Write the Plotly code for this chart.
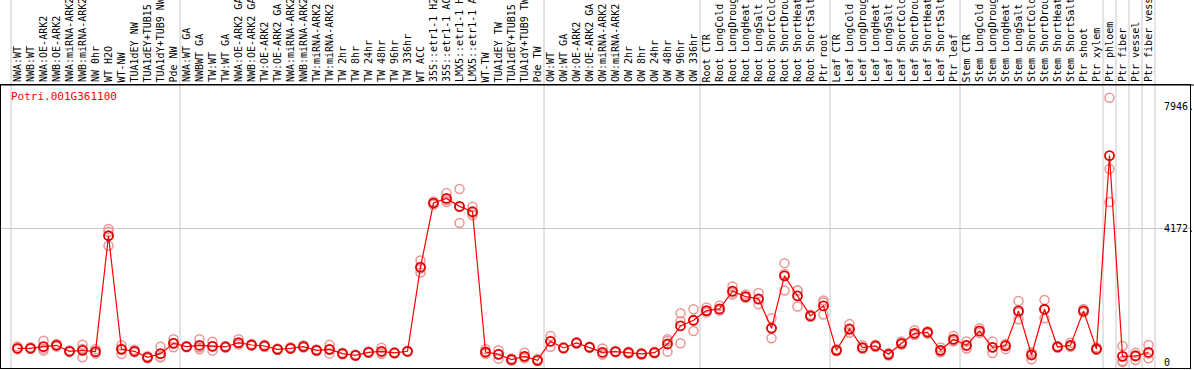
import plotly.graph_objects as go

categories = [
    "NWA:WT", "NWB:WT", "NWA:OE-ARK2", "NWB:OE-ARK2", "NWA:miRNA-ARK2", "NWB:miRNA-ARK2",
    "NW 0hr", "WT H2O", "WT-NW", "TUA1dEY NW", "TUA1dEY+TUB15 NW", "TUA1dY+TUB9 NW", "Pde NW",
    "NWA:WT GA", "NWBWT GA", "TW:WT", "TW:WT GA", "NWA:OE-ARK2 GA", "NWB:OE-ARK2 GA",
    "TW:OE-ARK2", "TW:OE-ARK2 GA", "NWA:miRNA-ARK2", "NWB:miRNA-ARK2", "TW:miRNA-ARK2",
    "TW:miRNA-ARK2", "TW 2hr", "TW 8hr", "TW 24hr", "TW 48hr", "TW 96hr", "TW 336hr",
    "WT ACC", "35S::etr1-1 H2O", "35S::etr1-1 ACC", "LMX5::etr1-1 H2O", "LMX5::etr1-1 ACC",
    "WT-TW", "TUA1dEY TW", "TUA1dEY+TUB15 TW", "TUA1dY+TUB9 TW", "Pde TW",
    "OW:WT", "OW:WT GA", "OW:OE-ARK2", "OW:OE-ARK2 GA", "OW:miRNA-ARK2", "OW:miRNA-ARK2",
    "OW 2hr", "OW 8hr", "OW 24hr", "OW 48hr", "OW 96hr", "OW 336hr",
    "Root CTR", "Root LongCold", "Root LongDrought", "Root LongHeat", "Root LongSalt",
    "Root ShortCold", "Root ShortDrought", "Root ShortHeat", "Root ShortSalt", "Ptr root",
    "Leaf CTR", "Leaf LongCold", "Leaf LongDrought", "Leaf LongHeat", "Leaf LongSalt",
    "Leaf ShortCold", "Leaf ShortDrought", "Leaf ShortHeat", "Leaf ShortSalt", "Ptr leaf",
    "Stem CTR", "Stem LongCold", "Stem LongDrought", "Stem LongHeat", "Stem LongSalt",
    "Stem ShortCold", "Stem ShortDrought", "Stem ShortHeat", "Stem ShortSalt", "Ptr shoot",
    "Ptr xylem", "Ptr phloem", "Ptr fiber", "Ptr vessel", "Ptr fiber vessel",
]

mean_values = [
    427, 427, 477, 520, 333, 364, 322, 3930, 395, 333, 146, 260, 582,
    477, 520, 489, 468, 603, 530, 499, 395, 427, 477, 364, 395, 260, 208, 302, 333, 281, 333,
    2953, 4949, 5094, 4845, 4679, 312, 239, 73, 177, 52,
    645, 437, 593, 458, 302, 322, 291, 250, 291, 561, 1123, 1300,
    1601, 1653, 2205, 2037, 1965, 1050, 2682, 2059, 1435, 1747,
    364, 1029, 447, 499, 239, 582, 894, 925, 364, 707,
    520, 967, 458, 499, 1591, 218, 1643, 468, 520, 1591, 405,
    6425, 177, 187, 302,
]

rep1 = [
    480, 460, 664, 560, 360, 540, 400, 4139, 520, 380, 180, 477, 707,
    500, 707, 634, 500, 707, 560, 540, 420, 460, 520, 390, 540, 290, 230, 330, 440, 300, 350,
    3160, 5000, 5262, 5386, 4834, 400, 364, 110, 290, 90,
    811, 460, 620, 480, 420, 340, 320, 280, 320, 707, 1518, 1643,
    1700, 1750, 2350, 2100, 2150, 1362, 3078, 2225, 1470, 1913,
    400, 1180, 520, 540, 280, 640, 990, 960, 450, 810,
    640, 1050, 640, 560, 1903, 300, 1934, 500, 600, 1650, 450,
    8225, 499, 291, 530,
]

rep2 = [
    400, 410, 353, 520, 330, 146, 300, 4055, 250, 320, 140, 146, 582,
    460, 395, 353, 450, 560, 520, 480, 380, 410, 450, 350, 260, 250, 200, 290, 300, 270, 320,
    2786, 4900, 4981, 4326, 4637, 280, 104, 60, 120, 30,
    477, 420, 570, 440, 250, 300, 260, 230, 270, 322, 582, 967,
    1550, 1600, 2100, 2000, 1800, 738, 2225, 1726, 1410, 1476,
    340, 910, 410, 470, 200, 560, 850, 880, 300, 640,
    420, 900, 280, 400, 1331, 83, 1362, 440, 470, 1540, 380,
    6010, 0, 62, 114,
]

rep3 = [
    400, 410, 414, 480, 310, 406, 266, 3618, 415, 300, 118, 157, 457,
    470, 458, 480, 454, 542, 510, 477, 385, 411, 461, 352, 385, 240, 194, 286, 259, 273, 329,
    2913, 4947, 5039, 4823, 4566, 256, 249, 49, 121, 36,
    647, 431, 589, 454, 236, 326, 293, 240, 283, 654, 1269, 1290,
    1553, 1609, 2165, 2011, 1945, 1050, 2743, 2226, 1425, 1852,
    352, 997, 411, 487, 237, 546, 842, 935, 342, 671,
    500, 951, 454, 537, 1539, 271, 1633, 464, 490, 1583, 385,
    4981, 32, 208, 262,
]

group_bounds = [-0.5, 12.5, 40.5, 52.5, 62.5, 72.5, 83.5, 84.5, 85.5, 86.5, 87.5]
y_tick_values = [0, 4172, 7946]
y_tick_labels = ["0", "4172.", "7946."]
gene_id = "Potri.001G361100"

MONO = "DejaVu Sans Mono"
W, H = 1194, 370
ML, MR, MT, MB = 1, 4, 85, 2
X_RANGE = [-16.5 / 13, -16.5 / 13 + (W - ML - MR) / 13]
Y_RANGE = [-186.8, 8624]
PH = H - MT - MB

xs = list(range(len(categories)))

fig = go.Figure()

for reps in (rep1, rep2, rep3):
    fig.add_trace(go.Scatter(
        x=xs, y=reps, mode="markers",
        marker=dict(symbol="circle-open", size=9, color="#eb9595", line=dict(width=1.5)),
        hoverinfo="skip", showlegend=False,
    ))

fig.add_trace(go.Scatter(
    x=xs, y=mean_values, mode="lines+markers",
    line=dict(color="#ff0000", width=1.2),
    marker=dict(symbol="circle-open", size=9, color="#e00000", line=dict(width=1.8)),
    text=categories, showlegend=False,
))

# header labels
for i, lab in enumerate(categories):
    fig.add_annotation(
        x=i, xref="x", y=1 + 1.5 / PH, yref="paper",
        text=lab, textangle=-90, showarrow=False,
        xanchor="center", yanchor="bottom", borderpad=0,
        font=dict(family=MONO, size=10, color="black"),
    )

# group separators extending through header
for b in group_bounds:
    fig.add_shape(type="line", xref="x", yref="paper", x0=b, x1=b, y0=0, y1=1.35,
                  line=dict(color="#c8c8c8", width=1), layer="below")

# separator line between header and plot
fig.add_shape(type="line", xref="paper", yref="paper", x0=-0.01, x1=1.01, y0=1, y1=1,
              line=dict(color="black", width=1))

# y labels on right
for v, t in zip(y_tick_values, y_tick_labels):
    fig.add_annotation(
        x=(1163 - 17.5) / 13, xref="x", y=v, yref="y",
        text=t, showarrow=False, xanchor="left", yanchor="middle", borderpad=0,
        font=dict(family=MONO, size=10, color="black"),
    )

fig.add_annotation(
    x=-0.65, xref="x", y=1 - 12 / PH, yref="paper",
    text=gene_id, showarrow=False, xanchor="left", yanchor="middle",
    font=dict(family=MONO, size=11, color="#ff0000"),
)

fig.update_layout(
    width=W, height=H,
    margin=dict(l=ML, r=MR, t=MT, b=MB, pad=0),
    paper_bgcolor="white", plot_bgcolor="white",
    xaxis=dict(range=X_RANGE, showgrid=False, zeroline=False, showticklabels=False,
               ticks="", showline=True, mirror=True, linecolor="black", linewidth=1),
    yaxis=dict(range=Y_RANGE, tickvals=[4172], showgrid=True, gridcolor="#c8c8c8",
               gridwidth=1, zeroline=False, showticklabels=False, ticks="",
               showline=True, mirror=True, linecolor="black", linewidth=1),
    font=dict(family=MONO),
)

fig.write_html(
    "out.html",
    config={"displayModeBar": False},
    post_script="document.body.style.margin='0';document.body.style.overflow='hidden';",
)
